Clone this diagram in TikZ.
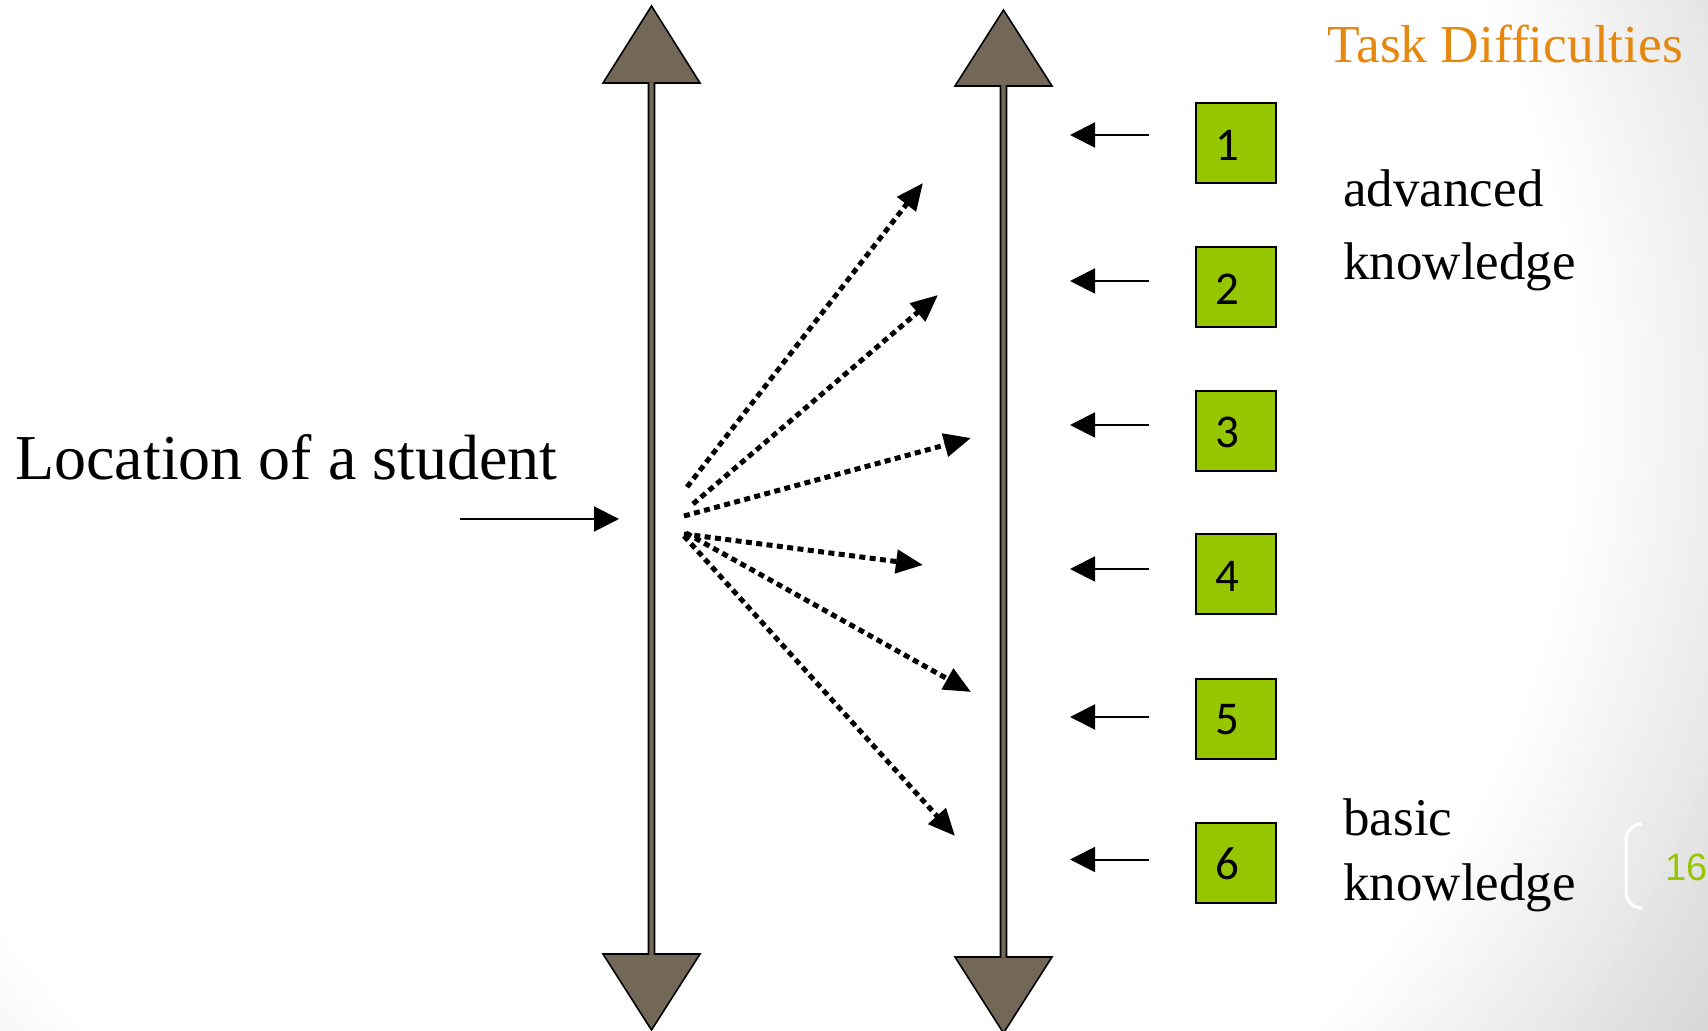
\documentclass[tikz,border=0pt]{standalone}
\usepackage{fontspec}
\setmainfont{Liberation Serif}
\newfontfamily\numfont{Carlito}
\newfontfamily\pagefont{Liberation Sans}
\usetikzlibrary{arrows.meta}

\definecolor{shaftgray}{RGB}{115,104,88}
\definecolor{levelgreen}{RGB}{149,198,0}
\definecolor{titleorange}{RGB}{228,136,16}
\definecolor{edgegray}{RGB}{214,214,214}

\begin{document}
\begin{tikzpicture}[x=0.5pt,y=-0.5pt,
  bigarrow/.style={fill=shaftgray, draw=black, line width=0.8pt, line join=miter},
  levelbox/.style={draw=black, line width=1pt, fill=levelgreen,
    minimum width=40pt, minimum height=40pt, inner sep=0pt},
  levelnum/.style={font=\numfont\fontsize{23.5}{28}\selectfont, inner sep=0pt},
  pointer/.style={line width=1pt, -{Triangle[length=12.5pt,width=12.5pt]}},
  spread/.style={line width=2.5pt, dash pattern=on 3pt off 2.2pt,
    -{Triangle[length=13.5pt,width=11.5pt]}},
  sidetext/.style={font=\fontsize{26.5}{32}\selectfont, inner sep=0pt, anchor=base west}]

% background: white centre fading to grey towards the right-hand corners
\useasboundingbox (0,0) rectangle (1708,1031);
\begin{scope}
  \clip (0,0) rectangle (1708,1031);
  \fill[edgegray] (0,0) rectangle (1708,1031);
  \foreach \k in {0,...,40}{
    \pgfmathsetmacro{\rad}{1200-\k*8}
    \pgfmathsetmacro{\mix}{100-\k*2.5}
    \fill[edgegray!\mix!white] (700,400) circle (\rad*0.5pt);
  }
\end{scope}

% ability scale (left) and difficulty scale (right)
\draw[bigarrow] (651.5,6) -- (700,83) -- (654.5,83) -- (654.5,954) -- (700,954)
  -- (651.5,1030) -- (603,954) -- (648.5,954) -- (648.5,83) -- (603,83) -- cycle;
\draw[bigarrow] (1003.5,10) -- (1052,86) -- (1006.5,86) -- (1006.5,957) -- (1052,957)
  -- (1003.5,1033) -- (955,957) -- (1000.5,957) -- (1000.5,86) -- (955,86) -- cycle;

% student location
\node[font=\fontsize{32}{38}\selectfont, inner sep=0pt, anchor=base west] (loc) at (15,480) {Location of a student};
\coordinate (locA) at (460,519);
\coordinate (locB) at (619,519);
\draw[pointer] (locA) -- (locB);

% spread of possible outcomes
\coordinate (s1) at (687,487);  \coordinate (e1) at (923,183);
\coordinate (s2) at (693,504);  \coordinate (e2) at (938,295);
\coordinate (s3) at (684,516);  \coordinate (e3) at (971,438);
\coordinate (s4) at (684,534);  \coordinate (e4) at (923,565);
\coordinate (s5) at (686,533);  \coordinate (e5) at (971,692);
\coordinate (s6) at (684,536);  \coordinate (e6) at (955,836);
\foreach \i in {1,...,6} \draw[spread] (s\i) -- (e\i);

% task difficulty levels
\foreach \i/\by/\ay in {1/143.5/135, 2/287.5/281, 3/431/425, 4/574.5/569, 5/718.5/717, 6/862.5/859.5}{
  \node[levelbox] (b\i) at (1236,\by) {};
  \node[levelnum] (n\i) at (1227,\by+1.5) {\i};
  \coordinate (t\i) at (1149,\ay);
  \coordinate (h\i) at (1070,\ay);
  \draw[pointer] (t\i) -- (h\i);
}

% headings
\node[font=\fontsize{26.7}{32}\selectfont, text=titleorange, inner sep=0pt, anchor=base west] (title) at (1327,63) {Task Difficulties};
\node[sidetext] (adv1) at (1343,207) {advanced};
\node[sidetext] (adv2) at (1343,280) {knowledge};
\node[sidetext] (bas1) at (1343,835) {basic};
\node[sidetext] (bas2) at (1343,900) {knowledge};

% slide number
\draw[white, line width=1.5pt, rounded corners=8pt] (1642,824) -- (1626,824) -- (1626,908) -- (1642,908);
\node[font=\pagefont\fontsize{19}{23}\selectfont, text=levelgreen, inner sep=0pt, anchor=base west] (pg) at (1665,880) {16};
\end{tikzpicture}
\end{document}
